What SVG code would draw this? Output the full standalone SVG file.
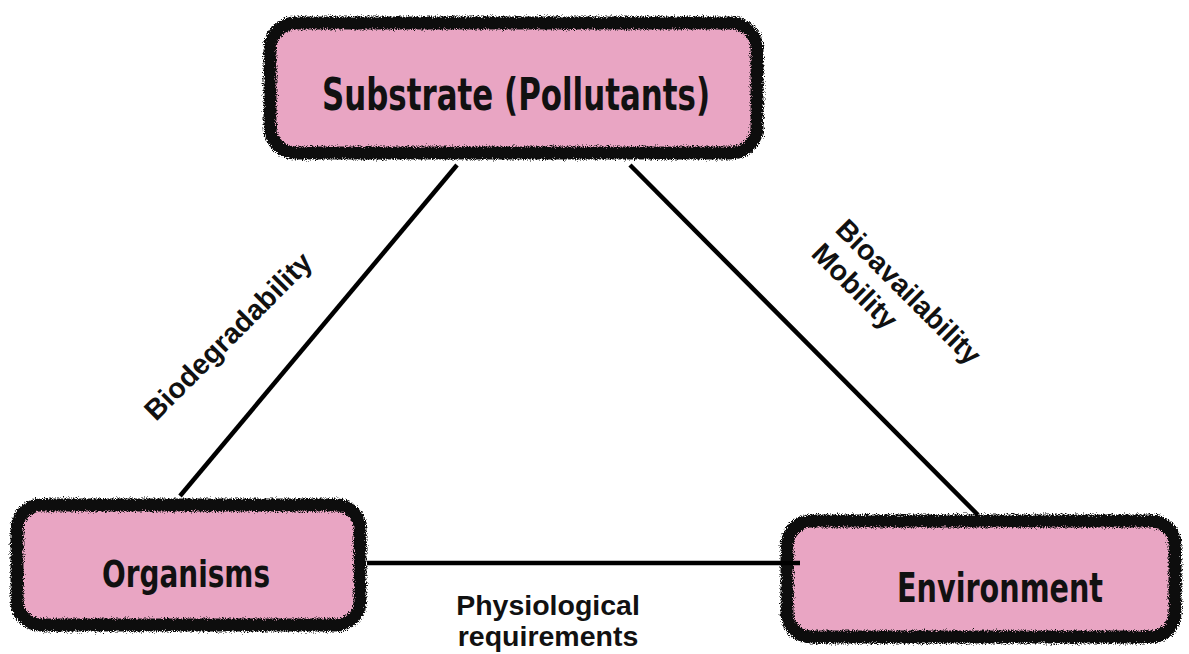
<svg xmlns="http://www.w3.org/2000/svg" width="1189" height="654" viewBox="0 0 1189 654">
<style>
.fill{fill:#E9A5C3;stroke:none}
.border{fill:none;stroke:#111;stroke-width:13;filter:url(#rough)}
.box-label{font-family:"DejaVu Sans Condensed","DejaVu Sans",sans-serif;font-weight:bold;font-stretch:condensed;fill:#111;text-anchor:middle}
.edge{stroke:#000;stroke-width:4.5;fill:none}
.edge-label{font-family:"Liberation Sans",Arial,sans-serif;font-weight:bold;font-size:28.5px;fill:#111}
</style>
<defs>
<filter id="rough" x="-5%" y="-15%" width="110%" height="130%">
<feTurbulence type="fractalNoise" baseFrequency="0.9" numOctaves="3" seed="4" result="n"/>
<feDisplacementMap in="SourceGraphic" in2="n" scale="7" xChannelSelector="R" yChannelSelector="G"/>
</filter>
</defs>
<rect width="1189" height="654" fill="#fff"/>
<g id="node-substrate">
<rect class="fill" x="270" y="23" width="487" height="130" rx="26"/>
<rect class="border" x="270" y="23" width="487" height="130" rx="26"/>
<text class="box-label" x="516" y="110" font-size="45" textLength="388" lengthAdjust="spacingAndGlyphs">Substrate (Pollutants)</text>
</g>
<g id="node-organisms">
<rect class="fill" x="17" y="505" width="343" height="120" rx="24"/>
<rect class="border" x="17" y="505" width="343" height="120" rx="24"/>
<text class="box-label" x="186" y="587" font-size="38" textLength="168" lengthAdjust="spacingAndGlyphs">Organisms</text>
</g>
<g id="node-environment">
<rect class="fill" x="787" y="521" width="388" height="116" rx="24"/>
<rect class="border" x="787" y="521" width="388" height="116" rx="24"/>
<text class="box-label" x="1000" y="602" font-size="40" textLength="206" lengthAdjust="spacingAndGlyphs">Environment</text>
</g>
<g id="connectors">
<line class="edge" x1="457" y1="165" x2="180" y2="496"/>
<line class="edge" x1="630" y1="165" x2="978" y2="515"/>
<line class="edge" x1="367" y1="563" x2="800" y2="563"/>
<text class="edge-label" transform="translate(156,422) rotate(-45)">Biodegradability</text>
<g transform="translate(834,231) rotate(45)">
<text class="edge-label" x="0" y="0">Bioavailability</text>
<text class="edge-label" x="0" y="34">Mobility</text>
</g>
<text class="edge-label" x="548" y="615" text-anchor="middle">Physiological</text>
<text class="edge-label" x="548" y="646" text-anchor="middle">requirements</text>
</g>
</svg>
